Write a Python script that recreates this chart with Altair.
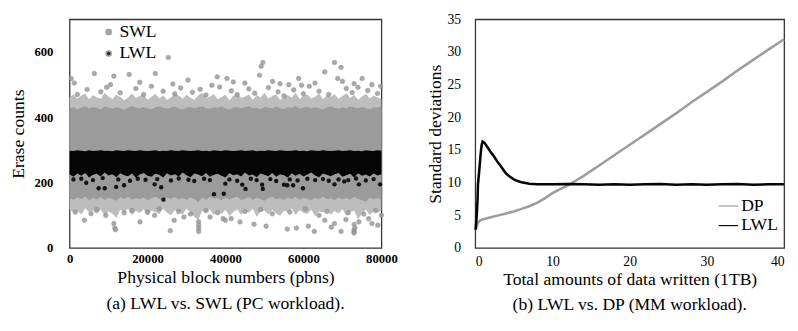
import altair as alt
import pandas as pd

FONT = "Liberation Serif"

# ---------------- Panel (a): erase counts per block ----------------
band_x = list(range(0, 81000, 1000))
swl_core_top = [428, 432, 425, 430, 434, 427, 431, 429, 424,
                433, 430, 426, 431, 428, 423, 429, 435, 430,
                427, 432, 428, 425, 431, 434, 429, 426, 430,
                433, 428, 424, 430, 432, 427, 431, 435, 428,
                426, 431, 429, 433, 427, 424, 430, 432, 428,
                431, 434, 427, 429, 425, 432, 430, 427, 433,
                428, 425, 431, 429, 434, 426, 430, 432, 427,
                431, 428, 424, 430, 433, 429, 426, 431, 428,
                434, 430, 427, 432, 428, 425, 431, 429, 433]
swl_fringe_top = [462, 470, 458, 466, 473, 455, 468, 461, 457,
                  475, 464, 456, 469, 462, 452, 460, 474, 459,
                  465, 470, 454, 463, 472, 458, 467, 453, 461,
                  473, 466, 457, 469, 460, 454, 467, 476, 458,
                  464, 471, 455, 462, 469, 452, 466, 473, 459,
                  463, 470, 454, 468, 461, 475, 457, 465, 471,
                  453, 462, 468, 460, 476, 456, 466, 470, 458,
                  463, 473, 455, 467, 462, 471, 457, 465, 474,
                  459, 468, 454, 463, 472, 458, 466, 461, 456]
swl_core_bottom = [152, 148, 155, 150, 157, 146, 153, 149, 156,
                   147, 154, 151, 145, 156, 150, 158, 148, 153,
                   149, 155, 146, 152, 157, 150, 147, 154, 151,
                   156, 149, 153, 147, 155, 150, 140, 154, 148,
                   157, 150, 152, 146, 155, 149, 153, 158, 147,
                   151, 156, 148, 154, 150, 145, 153, 157, 149,
                   152, 147, 155, 150, 156, 148, 153, 151, 146,
                   154, 149, 157, 150, 152, 147, 155, 149, 153,
                   148, 156, 151, 146, 142, 154, 150, 153, 148]
swl_fringe_bottom = [118, 108, 115, 102, 122, 110, 113, 104, 119,
                     98, 112, 106, 92, 117, 109, 121, 101, 114,
                     107, 118, 99, 115, 110, 104, 120, 108, 100,
                     116, 111, 103, 121, 109, 95, 85, 114, 107,
                     119, 101, 112, 105, 117, 98, 110, 118, 102,
                     113, 108, 120, 96, 111, 115, 103, 117, 106,
                     99, 114, 110, 121, 101, 116, 108, 104, 118,
                     97, 112, 109, 116, 102, 113, 106, 119, 99,
                     110, 115, 88, 105, 117, 101, 112, 108, 114]
lwl_top = [298, 297, 299, 298, 296, 299, 297, 298, 299,
           297, 298, 296, 299, 298, 297, 299, 298, 297,
           299, 298, 297, 298, 299, 296, 298, 297, 299,
           298, 297, 299, 298, 297, 298, 299, 297, 298,
           296, 299, 298, 297, 299, 298, 297, 298, 299,
           297, 298, 299, 296, 298, 297, 299, 298, 297,
           299, 298, 297, 298, 299, 297, 298, 296, 299,
           298, 297, 299, 298, 297, 298, 299, 297, 298,
           299, 297, 298, 296, 299, 298, 297, 299, 298]
lwl_bottom = [225, 218, 228, 221, 230, 216, 224, 227, 219,
              231, 222, 226, 217, 229, 223, 220, 228, 215,
              225, 230, 221, 218, 227, 224, 216, 229, 222,
              226, 219, 231, 223, 217, 228, 225, 220, 230,
              218, 224, 227, 221, 216, 229, 223, 226, 219,
              231, 222, 225, 217, 228, 224, 220, 230, 218,
              226, 223, 216, 229, 221, 227, 219, 225, 231,
              222, 217, 228, 224, 220, 226, 230, 218, 223,
              227, 216, 229, 221, 225, 219, 228, 222, 226]

swl_hi_x = [430, 6350, 11360, 15300, 22000, 25330, 30350, 37870,
            40380, 44970, 49580, 49160, 48730, 52090, 56250, 58760,
            65460, 67960, 69650, 68790, 75060, 77570, 62950, 2000,
            4500, 8000, 9500, 13000, 17000, 19000, 21000, 24000,
            27000, 28500, 31500, 33500, 35000, 38500, 41500, 43000,
            46000, 47500, 51000, 53500, 55000, 57500, 60000, 61500,
            64000, 66500, 71000, 72500, 74000, 76500, 79000, 79800,
            1200, 10500, 18000, 26500, 36500, 42000, 54000, 59500,
            70000, 73000]
swl_hi_y = [519, 534, 526, 531, 534, 583, 514, 524,
            519, 505, 568, 556, 529, 510, 500, 519,
            539, 568, 553, 519, 519, 500, 505, 470,
            485, 478, 492, 475, 488, 470, 495, 480,
            472, 490, 477, 486, 468, 493, 481, 470,
            487, 474, 491, 478, 466, 484, 472, 495,
            480, 470, 488, 476, 492, 482, 473, 495,
            505, 500, 507, 502, 498, 508, 503, 498,
            510, 503]
swl_lo_x = [3840, 11360, 11610, 11790, 18060, 25830, 26840, 33110,
            33110, 33110, 33110, 29340, 9280, 21820, 36040, 39380,
            39950, 41460, 43720, 47330, 50410, 55850, 58190, 61270,
            62780, 65460, 67140, 67960, 69650, 70900, 72980, 72980,
            72980, 73200, 73000, 74230, 76740, 77570, 79080, 1500,
            5500, 7000, 14000, 16000, 20000, 23000, 28000, 31000,
            35000, 38000, 45000, 49000, 52000, 56500, 60500, 64000,
            66000, 71500, 75500, 78500, 80000]
swl_lo_y = [85, 75, 61, 56, 80, 53, 85, 80,
            70, 60, 51, 95, 100, 100, 95, 90,
            85, 90, 80, 73, 67, 58, 61, 67,
            51, 85, 64, 75, 51, 87, 55, 50,
            46, 62, 72, 80, 90, 75, 70, 110,
            105, 118, 108, 115, 110, 120, 112, 104,
            115, 108, 112, 118, 105, 110, 120, 100,
            112, 108, 104, 115, 100]
lwl_lo_x = [4260, 7450, 9030, 11960, 13970, 21820, 23500, 24080,
            39950, 39550, 44310, 45140, 49400, 49580, 55000, 55850,
            57350, 59860, 67960, 70470, 74230, 79670, 37040, 1000,
            3000, 6000, 8500, 12500, 15500, 17500, 19500, 22500,
            26000, 28000, 30500, 32000, 34500, 36000, 41000, 43000,
            46500, 48000, 51500, 53000, 56500, 58500, 61000, 63000,
            65000, 66500, 69000, 71500, 73500, 76000, 78000]
lwl_lo_y = [200, 183, 183, 187, 192, 195, 186, 148,
            197, 166, 194, 181, 194, 181, 194, 192,
            192, 183, 195, 204, 195, 195, 165, 210,
            212, 208, 214, 210, 206, 212, 209, 211,
            207, 213, 209, 205, 212, 208, 210, 206,
            212, 208, 211, 205, 210, 207, 212, 208,
            211, 206, 210, 208, 213, 207, 211]

# ---------------- Panel (b): standard deviations ----------------
dp_x = [0.1, 0.3, 0.6, 1, 2, 3, 4, 5, 6, 7, 8, 9, 10, 11, 12, 13, 14, 15,
        16, 18, 20, 22, 24, 26, 28, 30, 32, 34, 36, 38, 40]
dp_y = [3.0, 3.8, 4.2, 4.4, 4.7, 5.0, 5.3, 5.6, 6.0, 6.4, 6.9, 7.6, 8.4, 9.0,
        9.6, 10.3, 11.0, 11.8, 12.6, 14.2, 15.8, 17.4, 19.0, 20.6, 22.3, 23.9,
        25.5, 27.2, 28.8, 30.4, 31.95]
lwl_x = [0.05, 0.2, 0.3, 0.35, 0.5, 0.6, 0.67, 0.76, 0.84, 0.95, 1.2, 1.6,
         2.0, 2.5, 3.0, 3.5, 4.0, 4.5, 5.0, 5.5, 6.0, 7.0, 8.0, 9.0, 10, 12,
         14, 16, 18, 20, 22, 24, 26, 28, 30, 32, 34, 36, 38, 40]
lwl_y = [2.8, 5.1, 7.5, 9.7, 11.6, 13.0, 14.0, 15.1, 15.8, 16.3, 16.1, 15.4,
         14.7, 13.9, 13.0, 12.2, 11.4, 10.9, 10.5, 10.25, 10.05, 9.85, 9.75,
         9.75, 9.75, 9.8, 9.75, 9.7, 9.75, 9.7, 9.75, 9.8, 9.7, 9.75, 9.7,
         9.75, 9.8, 9.7, 9.75, 9.75]

# ---------------- build panel (a) ----------------
band = pd.DataFrame({"x": band_x,
                     "core_top": swl_core_top, "core_bottom": swl_core_bottom,
                     "fringe_top": swl_fringe_top, "fringe_bottom": swl_fringe_bottom,
                     "lwl_top": lwl_top, "lwl_bottom": lwl_bottom})
pts = pd.concat([
    pd.DataFrame({"x": swl_hi_x, "y": swl_hi_y, "series": "SWL"}),
    pd.DataFrame({"x": swl_lo_x, "y": swl_lo_y, "series": "SWL"}),
])
lwl_pts = pd.DataFrame({"x": lwl_lo_x, "y": lwl_lo_y, "series": "LWL"})

GRAY = "#9b9b9b"
LIGHT = "#bdbdbd"
BLACK = "#050505"

xa = alt.X("x:Q", scale=alt.Scale(domain=[0, 80000], nice=False),
           axis=alt.Axis(values=[0, 20000, 40000, 60000, 80000], format="d",
                         title="Physical block numbers (pbns)",
                         labelFont=FONT, titleFont=FONT, labelFlush=False,
                         labelFontWeight="bold", labelFontSize=13,
                         titleFontSize=18, labelPadding=5, titlePadding=3))
yaxis_a = alt.Axis(values=[0, 200, 400, 600], title="Erase counts",
                   labelFont=FONT, titleFont=FONT,
                   labelFontWeight="bold", labelFontSize=13, titleFontSize=18,
                   labelPadding=17, titlePadding=7)
yscale_a = alt.Scale(domain=[0, 700], nice=False)
col_a = alt.Color("series:N",
                  scale=alt.Scale(domain=["SWL", "LWL"], range=[GRAY, BLACK]),
                  legend=alt.Legend(title=None, orient="none", legendX=31, legendY=4,
                                    symbolType="circle", symbolSize=26,
                                    labelFont=FONT, labelFontSize=18,
                                    rowPadding=4, labelOffset=2))

fringe_area = alt.Chart(band).mark_area(color=LIGHT, opacity=1).encode(
    x=xa, y=alt.Y("fringe_top:Q", scale=yscale_a, axis=yaxis_a), y2="fringe_bottom:Q")
core_area = alt.Chart(band).mark_area(color=GRAY, opacity=1).encode(
    x=xa, y=alt.Y("core_top:Q", scale=yscale_a, axis=yaxis_a), y2="core_bottom:Q")
lwl_area = alt.Chart(band).mark_area(color=BLACK, opacity=1).encode(
    x=xa, y=alt.Y("lwl_top:Q", scale=yscale_a, axis=yaxis_a), y2="lwl_bottom:Q")
swl_dots = alt.Chart(pts).mark_circle(size=22, opacity=0.85, stroke="#8a8a8a",
                                      strokeWidth=0.6).encode(
    x=xa, y=alt.Y("y:Q", scale=yscale_a, axis=yaxis_a), color=col_a)
lwl_dots = alt.Chart(lwl_pts).mark_circle(size=20, opacity=0.9).encode(
    x=xa, y=alt.Y("y:Q", scale=yscale_a, axis=yaxis_a), color=col_a)

panel_a = alt.layer(fringe_area, core_area, swl_dots, lwl_area, lwl_dots).properties(
    width=319, height=234,
    title=alt.TitleParams("(a) LWL vs. SWL (PC workload).", orient="bottom",
                          font=FONT, fontSize=18, fontWeight="normal",
                          anchor="middle", frame="group", offset=9, color="black"))

# ---------------- build panel (b) ----------------
lines = pd.concat([
    pd.DataFrame({"x": dp_x, "y": dp_y, "series": "DP"}),
    pd.DataFrame({"x": lwl_x, "y": lwl_y, "series": "LWL"}),
])
col_b = alt.Color("series:N",
                  scale=alt.Scale(domain=["DP", "LWL"], range=["#9d9d9d", BLACK]),
                  legend=alt.Legend(title=None, orient="none", legendX=248, legendY=180,
                                    symbolType="stroke", symbolSize=400,
                                    symbolStrokeWidth=1.2,
                                    labelFont=FONT, labelFontSize=18,
                                    rowPadding=0, labelOffset=2))
panel_b = alt.Chart(lines).mark_line(strokeWidth=2.6).encode(
    x=alt.X("x:Q", scale=alt.Scale(domain=[0, 40], nice=False),
            axis=alt.Axis(values=[0, 10, 20, 30, 40],
                          title="Total amounts of data written (1TB)",
                          labelFont=FONT, titleFont=FONT, labelFlush=True,
                          labelFontSize=14, titleFontSize=18,
                          labelPadding=7, titlePadding=2)),
    y=alt.Y("y:Q", scale=alt.Scale(domain=[0, 35], nice=False),
            axis=alt.Axis(values=[0, 5, 10, 15, 20, 25, 30, 35],
                          title="Standard deviations", labelFont=FONT,
                          titleFont=FONT, labelFontSize=14,
                          titleFontSize=18, labelPadding=15, titlePadding=3)),
    color=col_b,
    order="x:Q",
).properties(
    width=316, height=234,
    title=alt.TitleParams("(b) LWL vs. DP (MM workload).", orient="bottom",
                          font=FONT, fontSize=18, fontWeight="normal",
                          anchor="middle", frame="group", offset=8, color="black"))

chart = alt.hconcat(panel_a, panel_b, spacing=28).resolve_scale(
    color="independent").resolve_legend(color="independent").configure_axis(
    labelFont=FONT, titleFont=FONT, ticks=False, grid=False, domain=False,
    titleFontWeight="normal", labelColor="black", titleColor="black",
).configure_view(stroke="#333333", strokeWidth=1.3).properties(
    padding={"left": 0, "top": 0, "right": 0, "bottom": 0}, background="white")

chart.save("out.html", embed_options={"renderer": "svg", "actions": False})
